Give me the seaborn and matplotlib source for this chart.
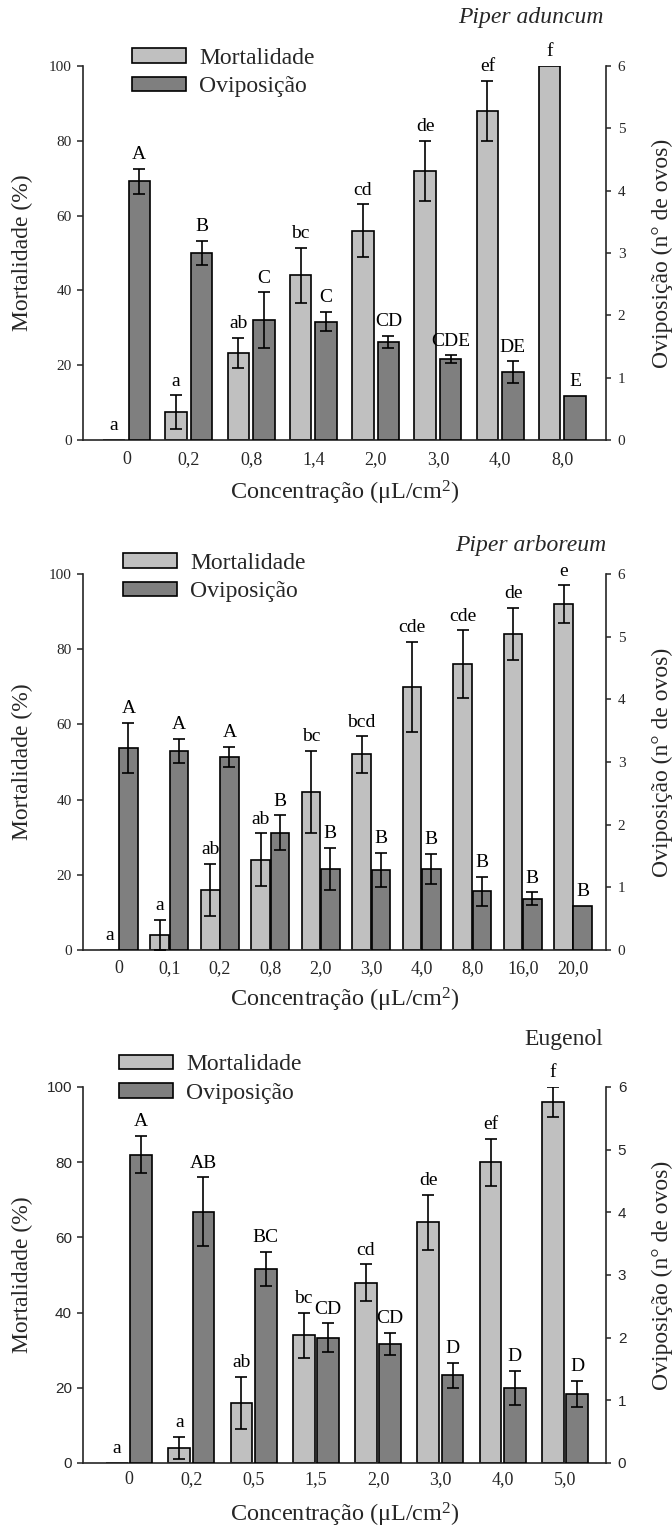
import numpy as np
import pandas as pd
import matplotlib
matplotlib.use("Agg")
import matplotlib.pyplot as plt
from matplotlib.container import BarContainer
import seaborn as sns

nan = np.nan

# ---------------- data ----------------
# Piper aduncum
conc1 = ['0', '0,2', '0,8', '1,4', '2,0', '3,0', '4,0', '8,0']
mort1 = [0, 7.4, 23.3, 44, 56, 72, 88, 100]
mort1_err = [nan, 4.5, 4.1, 7.3, 7.0, 8.0, 8.0, nan]
mort1_let = ['a', 'a', 'ab', 'bc', 'cd', 'de', 'ef', 'f']
ovi1 = [4.15, 3.0, 1.92, 1.90, 1.57, 1.30, 1.09, 0.71]
ovi1_err = [0.2, 0.2, 0.45, 0.15, 0.1, 0.06, 0.17, nan]
ovi1_let = ['A', 'B', 'C', 'C', 'CD', 'CDE', 'DE', 'E']

# Piper arboreum
conc2 = ['0', '0,1', '0,2', '0,8', '2,0', '3,0', '4,0', '8,0', '16,0', '20,0']
mort2 = [0, 4, 16, 24, 42, 52, 70, 76, 84, 92]
mort2_err = [nan, 4, 7, 7, 11, 4.8, 12, 9, 7, 5]
mort2_let = ['a', 'a', 'ab', 'ab', 'bc', 'bcd', 'cde', 'cde', 'de', 'e']
ovi2 = [3.22, 3.18, 3.08, 1.87, 1.29, 1.28, 1.29, 0.94, 0.82, 0.71]
ovi2_err = [0.4, 0.19, 0.16, 0.28, 0.34, 0.27, 0.24, 0.23, 0.1, nan]
ovi2_let = ['A', 'A', 'A', 'B', 'B', 'B', 'B', 'B', 'B', 'B']

# Eugenol
conc3 = ['0', '0,2', '0,5', '1,5', '2,0', '3,0', '4,0', '5,0']
mort3 = [0, 4, 16, 34, 48, 64, 80, 96]
mort3_err = [nan, 3, 7, 6, 4.8, 7.4, 6.2, 4]
mort3_let = ['a', 'a', 'ab', 'bc', 'cd', 'de', 'ef', 'f']
ovi3 = [4.92, 4.01, 3.1, 2.0, 1.9, 1.4, 1.2, 1.1]
ovi3_err = [0.3, 0.55, 0.27, 0.23, 0.18, 0.2, 0.27, 0.21]
ovi3_let = ['A', 'AB', 'BC', 'CD', 'CD', 'D', 'D', 'D']

SERIES = ['Mortalidade', 'Oviposição']
PALETTE = {'Mortalidade': '#c0c0c0', 'Oviposição': '#7f7f7f'}
XLABEL = 'Concentração (μL/cm$^{2}$)'
YLABEL_L = 'Mortalidade (%)'
YLABEL_R = 'Oviposição (n° de ovos)'

# ---------------- style ----------------
sns.set_theme(style='ticks')
plt.rcParams['font.family'] = ['Liberation Serif', 'DejaVu Serif']
plt.rcParams['mathtext.fontset'] = 'custom'
plt.rcParams['mathtext.rm'] = 'Liberation Serif'
plt.rcParams['mathtext.it'] = 'Liberation Serif:italic'
plt.rcParams['axes.linewidth'] = 1.2

W, H = 672, 1526
fig = plt.figure(figsize=(W / 100, H / 100), dpi=100)


def fx(px):
    return px / W


def fy(py):
    return 1 - py / H


def bar_container(ax):
    for c in ax.containers:
        if isinstance(c, BarContainer) and len(c.patches) > 0:
            return c
    return None


def draw_errors_letters(ax, values, errs, letters):
    bars = bar_container(ax)
    xs, ys, es = [], [], []
    for p in bars.patches:
        cx = p.get_x() + p.get_width() / 2
        i = int(round(cx))
        v, e, lab = values[i], errs[i], letters[i]
        top = v if np.isnan(e) else v + e
        if not np.isnan(e):
            xs.append(cx); ys.append(v); es.append(e)
        ax.annotate(lab, xy=(cx, top), xytext=(0, 7), textcoords='offset points',
                    ha='center', va='baseline', fontsize=14, color='black')
    ax.errorbar(xs, ys, yerr=es, fmt='none', ecolor='black', elinewidth=1.2,
                capsize=4.0, capthick=1.2, zorder=5)


def panel(top_px, bottom_px, conc, mort, mort_err, mort_let, ovi, ovi_err, ovi_let,
          title, italic, xlim, width, gap, leg_xy, title_xy, xlab_y, xtick_pad,
          ytick_family):
    left_px, right_px = 83, 606
    rect = [fx(left_px), fy(bottom_px), (right_px - left_px) / W, (bottom_px - top_px) / H]
    ax = fig.add_axes(rect)
    ax2 = ax.twinx()

    dm = pd.DataFrame({'conc': conc, 'valor': mort, 'serie': SERIES[0]})
    do = pd.DataFrame({'conc': conc, 'valor': ovi, 'serie': SERIES[1]})
    common = dict(x='conc', y='valor', hue='serie', hue_order=SERIES, order=conc,
                  palette=PALETTE, width=width, gap=gap, saturation=1, dodge=True,
                  errorbar=None, edgecolor='black', linewidth=1.2, legend=False)
    sns.barplot(data=dm, ax=ax, **common)
    sns.barplot(data=do, ax=ax2, **common)

    ax.set_ylim(0, 100)
    ax2.set_ylim(0, 6)
    ax.set_yticks(range(0, 101, 20))
    ax2.set_yticks(range(0, 7))
    ax.set_xlim(*xlim)

    draw_errors_letters(ax, mort, mort_err, mort_let)
    draw_errors_letters(ax2, ovi, ovi_err, ovi_let)

    for a in (ax, ax2):
        a.spines['top'].set_visible(False)
    ax.spines['right'].set_visible(False)
    ax2.spines['left'].set_visible(False)
    ax2.spines['bottom'].set_visible(False)

    ax.tick_params(axis='x', length=0, pad=xtick_pad, labelsize=13)
    ax.tick_params(axis='y', length=4, width=1.1, pad=4, labelsize=11)
    ax2.tick_params(axis='y', length=3.5, width=1.1, pad=5, labelsize=11)
    if ytick_family:
        for lab in ax.get_yticklabels() + ax2.get_yticklabels():
            lab.set_family(ytick_family)

    ax.set_xlabel(XLABEL, fontsize=17.5)
    ax.xaxis.label.set_va('center')
    ax.xaxis.set_label_coords(0.5, xlab_y)
    ax.set_ylabel(YLABEL_L, fontsize=17)
    ax.yaxis.label.set_va('center')
    ax.yaxis.set_label_coords(-0.115, 0.5)
    ax2.set_ylabel(YLABEL_R, fontsize=17, rotation=90)
    ax2.yaxis.label.set_va('center')
    ax2.yaxis.set_label_coords(1.107, 0.5)

    handles = [bar_container(ax).patches[0], bar_container(ax2).patches[0]]
    ax2.legend(handles=handles, labels=SERIES, loc='center left',
               bbox_to_anchor=(fx(leg_xy[0]), fy(leg_xy[1])), bbox_transform=fig.transFigure,
               frameon=False, fontsize=17, handlelength=2.3, handleheight=0.58,
               handletextpad=0.55, labelspacing=0.32, borderpad=0, borderaxespad=0)

    fig.text(fx(title_xy[0]), fy(title_xy[1]), title, ha='right', va='center',
             fontsize=17, style='italic' if italic else 'normal')


panel(66, 440, conc1, mort1, mort1_err, mort1_let, ovi1, ovi1_err, ovi1_let,
      'Piper aduncum', True, (-0.70, 7.70), 0.82, 0.16, (132, 72.5), (603, 18),
      -0.142, 8, None)
panel(574, 950, conc2, mort2, mort2_err, mort2_let, ovi2, ovi2_err, ovi2_let,
      'Piper arboreum', True, (-0.71, 9.65), 0.76, 0.03, (123, 577.5), (606, 545),
      -0.133, 7, None)
panel(1087, 1463, conc3, mort3, mort3_err, mort3_let, ovi3, ovi3_err, ovi3_let,
      'Eugenol', False, (-0.74, 7.66), 0.78, 0.11, (119, 1079), (603, 1040),
      -0.138, 6, 'Liberation Sans')

fig.savefig('out.png', dpi=100)
